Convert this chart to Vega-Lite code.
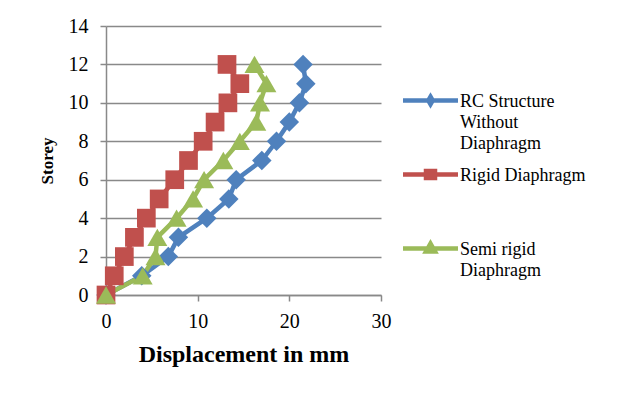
{
  "$schema": "https://vega.github.io/schema/vega-lite/v6.json",
  "width": 275,
  "height": 269,
  "autosize": {"type": "none"},
  "padding": {"left": 106, "top": 26, "right": 257, "bottom": 103},
  "background": "white",
  "config": {
    "view": {"stroke": null},
    "font": "Liberation Serif"
  },
  "data": {
    "values": [
      {"series": "RC Structure Without Diaphragm", "storey": 0, "disp": 0},
      {"series": "RC Structure Without Diaphragm", "storey": 1, "disp": 3.9},
      {"series": "RC Structure Without Diaphragm", "storey": 2, "disp": 6.8},
      {"series": "RC Structure Without Diaphragm", "storey": 3, "disp": 7.9},
      {"series": "RC Structure Without Diaphragm", "storey": 4, "disp": 11.0},
      {"series": "RC Structure Without Diaphragm", "storey": 5, "disp": 13.4},
      {"series": "RC Structure Without Diaphragm", "storey": 6, "disp": 14.2},
      {"series": "RC Structure Without Diaphragm", "storey": 7, "disp": 17.0},
      {"series": "RC Structure Without Diaphragm", "storey": 8, "disp": 18.6},
      {"series": "RC Structure Without Diaphragm", "storey": 9, "disp": 20.0},
      {"series": "RC Structure Without Diaphragm", "storey": 10, "disp": 21.1},
      {"series": "RC Structure Without Diaphragm", "storey": 11, "disp": 21.8},
      {"series": "RC Structure Without Diaphragm", "storey": 12, "disp": 21.5},
      {"series": "Rigid Diaphragm", "storey": 0, "disp": 0},
      {"series": "Rigid Diaphragm", "storey": 1, "disp": 0.9},
      {"series": "Rigid Diaphragm", "storey": 2, "disp": 2.0},
      {"series": "Rigid Diaphragm", "storey": 3, "disp": 3.1},
      {"series": "Rigid Diaphragm", "storey": 4, "disp": 4.4},
      {"series": "Rigid Diaphragm", "storey": 5, "disp": 5.8},
      {"series": "Rigid Diaphragm", "storey": 6, "disp": 7.5},
      {"series": "Rigid Diaphragm", "storey": 7, "disp": 9.0},
      {"series": "Rigid Diaphragm", "storey": 8, "disp": 10.6},
      {"series": "Rigid Diaphragm", "storey": 9, "disp": 11.9},
      {"series": "Rigid Diaphragm", "storey": 10, "disp": 13.3},
      {"series": "Rigid Diaphragm", "storey": 11, "disp": 14.6},
      {"series": "Rigid Diaphragm", "storey": 12, "disp": 13.2},
      {"series": "Semi rigid Diaphragm", "storey": 0, "disp": 0},
      {"series": "Semi rigid Diaphragm", "storey": 1, "disp": 4.0},
      {"series": "Semi rigid Diaphragm", "storey": 2, "disp": 5.4},
      {"series": "Semi rigid Diaphragm", "storey": 3, "disp": 5.6},
      {"series": "Semi rigid Diaphragm", "storey": 4, "disp": 7.7},
      {"series": "Semi rigid Diaphragm", "storey": 5, "disp": 9.5},
      {"series": "Semi rigid Diaphragm", "storey": 6, "disp": 10.7},
      {"series": "Semi rigid Diaphragm", "storey": 7, "disp": 12.8},
      {"series": "Semi rigid Diaphragm", "storey": 8, "disp": 14.6},
      {"series": "Semi rigid Diaphragm", "storey": 9, "disp": 16.4},
      {"series": "Semi rigid Diaphragm", "storey": 10, "disp": 16.8},
      {"series": "Semi rigid Diaphragm", "storey": 11, "disp": 17.5},
      {"series": "Semi rigid Diaphragm", "storey": 12, "disp": 16.2}
    ]
  },
  "encoding": {
    "x": {
      "field": "disp",
      "type": "quantitative",
      "scale": {"domain": [0, 30], "nice": false, "zero": true},
      "axis": {
        "values": [0, 10, 20, 30],
        "grid": false,
        "title": "Displacement in mm",
        "titleFont": "Liberation Serif",
        "titleFontSize": 24,
        "titleFontWeight": "bold",
        "titleColor": "black",
        "titlePadding": 11,
        "labelFont": "Liberation Serif",
        "labelFontSize": 20,
        "labelColor": "black",
        "labelPadding": 10,
        "labelFlush": false,
        "tickSize": 6,
        "tickWidth": 1.5,
        "tickColor": "#898989",
        "domainColor": "#898989",
        "domainWidth": 1.5
      }
    },
    "y": {
      "field": "storey",
      "type": "quantitative",
      "scale": {"domain": [0, 14], "nice": false},
      "axis": {
        "values": [0, 2, 4, 6, 8, 10, 12, 14],
        "grid": true,
        "gridColor": "#898989",
        "gridWidth": 1.5,
        "title": "Storey",
        "titleFont": "Liberation Serif",
        "titleFontSize": 17,
        "titleFontWeight": "bold",
        "titleColor": "black",
        "titlePadding": 12,
        "labelFont": "Liberation Serif",
        "labelFontSize": 20,
        "labelColor": "black",
        "labelPadding": 12,
        "labelFlush": false,
        "tickSize": 6,
        "tickWidth": 1.5,
        "tickColor": "#898989",
        "domainColor": "#898989",
        "domainWidth": 1.5
      }
    },
    "color": {
      "field": "series",
      "type": "nominal",
      "scale": {
        "domain": ["RC Structure Without Diaphragm", "Rigid Diaphragm", "Semi rigid Diaphragm"],
        "range": ["#4F81BD", "#C0504D", "#9BBB59"]
      },
      "legend": {
        "title": null,
        "orient": "none",
        "legendX": 312,
        "legendY": 62,
        "padding": 0,
        "labelFont": "Liberation Serif",
        "labelFontSize": 18,
        "labelColor": "black",
        "labelLimit": 300,
        "labelOffset": 17,
        "labelBaseline": "alphabetic",
        "labelExpr": "datum.label == 'RC Structure Without Diaphragm' ? ['RC Structure', 'Without', 'Diaphragm'] : datum.label == 'Semi rigid Diaphragm' ? ['Semi rigid', 'Diaphragm'] : datum.label",
        "symbolSize": 400,
        "symbolStrokeWidth": 4.5,
        "gridAlign": "all",
        "rowPadding": 7,
        "encoding": {
          "symbols": {
            "fill": {"signal": "scale('color', datum.value)"},
            "stroke": {"signal": "scale('color', datum.value)"},
            "strokeWidth": {"value": 4.5},
            "size": {"value": 400},
            "opacity": {"value": 1}
          },
          "labels": {
            "dy": {"value": 6},
            "lineHeight": {"value": 21}
          }
        }
      }
    }
  },
  "layer": [
    {
      "mark": {"type": "line", "strokeWidth": 4.5},
      "encoding": {"order": {"field": "storey", "type": "quantitative"}}
    },
    {
      "mark": {"type": "point", "filled": true, "opacity": 1},
      "encoding": {
        "shape": {
          "condition": [
            {"test": "datum.series == 'Rigid Diaphragm'", "value": "square"},
            {"test": "datum.series == 'Semi rigid Diaphragm'", "value": "triangle-up"}
          ],
          "value": "diamond"
        },
        "size": {
          "condition": [
            {"test": "datum.series == 'Rigid Diaphragm'", "value": 350},
            {"test": "datum.series == 'Semi rigid Diaphragm'", "value": 400}
          ],
          "value": 380
        }
      }
    },
    {
      "transform": [{"filter": "datum.storey < 0"}],
      "mark": {"type": "point", "filled": true, "opacity": 1, "size": 400},
      "encoding": {
        "shape": {
          "field": "series",
          "type": "nominal",
          "scale": {
            "domain": ["RC Structure Without Diaphragm", "Rigid Diaphragm", "Semi rigid Diaphragm"],
            "range": [
              "M-2.75,0H2.75M0,-0.38L0.22,0L0,0.38L-0.22,0Z",
              "M-2.75,0H2.75M-0.45,-0.35H0.45V0.35H-0.45Z",
              "M-2.75,0H2.75M0,-0.5L0.45,0.3H-0.45Z"
            ]
          },
          "legend": null
        }
      }
    }
  ]
}
